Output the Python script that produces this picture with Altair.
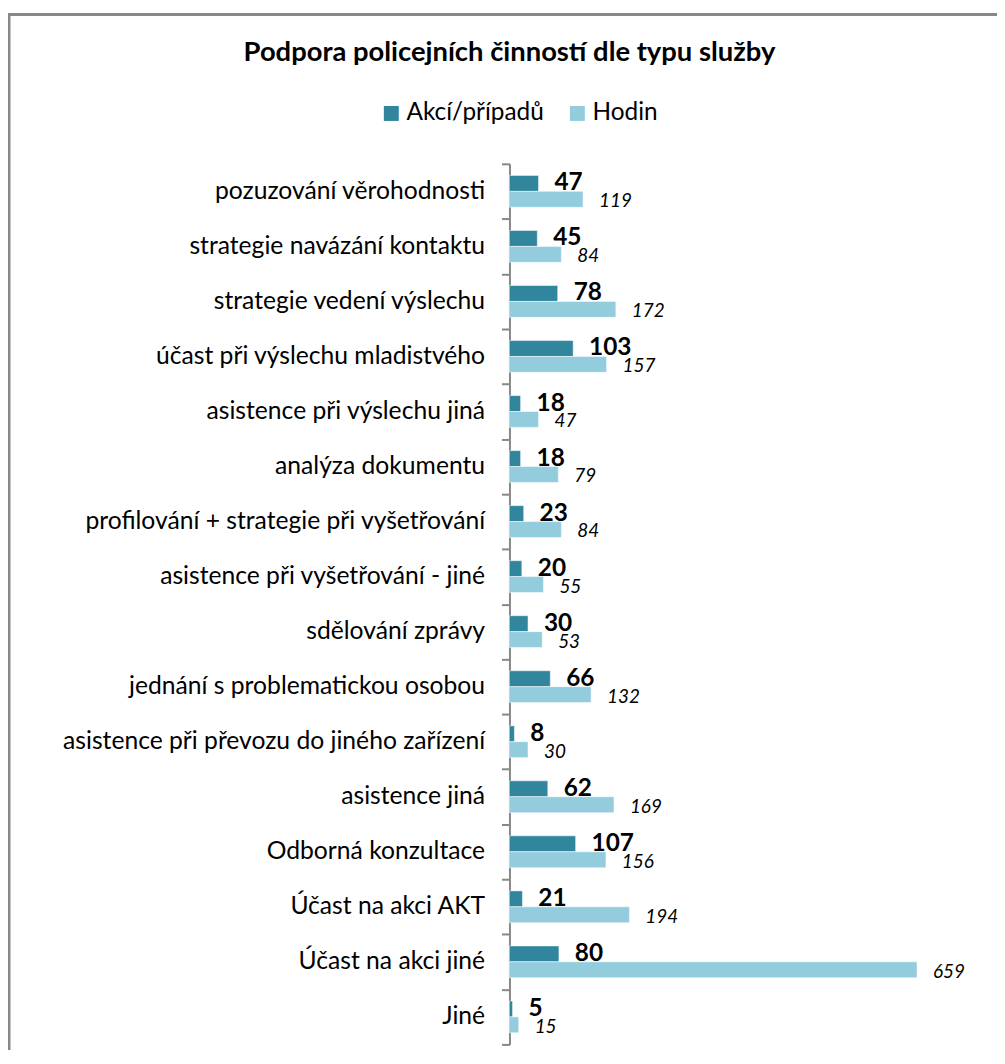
import altair as alt
import pandas as pd

categories = [
    "pozuzování věrohodnosti",
    "strategie navázání kontaktu",
    "strategie vedení výslechu",
    "účast při výslechu mladistvého",
    "asistence při výslechu jiná",
    "analýza dokumentu",
    "profilování + strategie při vyšetřování",
    "asistence při vyšetřování - jiné",
    "sdělování zprávy",
    "jednání s problematickou osobou",
    "asistence při převozu do jiného zařízení",
    "asistence jiná",
    "Odborná konzultace",
    "Účast na akci AKT",
    "Účast na akci jiné",
    "Jiné",
]
akce = [47, 45, 78, 103, 18, 18, 23, 20, 30, 66, 8, 62, 107, 21, 80, 5]
hodin = [119, 84, 172, 157, 47, 79, 84, 55, 53, 132, 30, 169, 156, 194, 659, 15]
series = ["Akcí/případů", "Hodin"]
colors = ["#31859C", "#93CDDD"]

rows = []
for c, a, h in zip(categories, akce, hodin):
    rows.append({"kat": c, "serie": series[0], "hodnota": a})
    rows.append({"kat": c, "serie": series[1], "hodnota": h})
df = pd.DataFrame(rows)

W, H = 460, 885
FONT = "Lato"

y_enc = alt.Y("kat:N", sort=categories,
              scale=alt.Scale(domain=categories, paddingInner=0, paddingOuter=0),
              axis=alt.Axis(title=None, tickBand="extent", tickSize=8, tickWidth=2,
                            tickColor="#888888", domainColor="#888888", domainWidth=2,
                            labelFont=FONT, labelFontSize=24.8, labelColor="#000000",
                            labelPadding=17, labelLimit=700))
yoff_enc = alt.YOffset("serie:N", sort=series,
                       scale=alt.Scale(domain=series, paddingInner=0, paddingOuter=0.73))
x_enc = alt.X("hodnota:Q", scale=alt.Scale(domain=[0, 740], nice=False), axis=None)

base = alt.Chart(df)

bars = base.mark_bar(stroke="white", strokeWidth=0.5).encode(
    y=y_enc, yOffset=yoff_enc, x=x_enc,
    color=alt.Color("serie:N", sort=series,
                    scale=alt.Scale(domain=series, range=colors),
                    legend=alt.Legend(title=None, orient="none", direction="horizontal",
                                      legendX=-131, legendY=-63, symbolType="square",
                                      symbolSize=225, symbolStrokeWidth=0,
                                      labelFont=FONT, labelFontSize=24.5, labelColor="#000000",
                                      labelOffset=3, columnPadding=21)),
)

lab_a = base.transform_filter(alt.datum.serie == series[0]).mark_text(
    align="left", baseline="middle", dx=16, dy=0, font=FONT, fontSize=24.5,
    fontWeight="bold", color="#000000").encode(
    y=y_enc, yOffset=yoff_enc, x=x_enc, text="hodnota:Q")

lab_h = base.transform_filter(alt.datum.serie == series[1]).mark_text(
    align="left", baseline="middle", dx=16, dy=2, font=FONT, fontSize=19,
    fontStyle="italic", color="#000000").encode(
    y=y_enc, yOffset=yoff_enc, x=x_enc, text="hodnota:Q")

one = pd.DataFrame({"a": [0]})
border = alt.Chart(one).mark_rect(fill=None, stroke="#888888", strokeWidth=3).encode(
    x=alt.value(-503), x2=alt.value(W + 200), y=alt.value(-150), y2=alt.value(H + 200))

chart = alt.layer(border, bars, lab_a, lab_h).properties(
    width=W, height=H,
    title=alt.TitleParams("Podpora policejních činností dle typu služby",
                          font=FONT, fontSize=27.5, fontWeight="bold", color="#000000",
                          anchor="middle", dx=-230, offset=0, dy=54),
    padding={"left": 504, "top": 154, "right": 30, "bottom": 3},
    autosize=alt.AutoSizeParams(type="none"),
).configure(background="white").configure_view(stroke=None)

chart.save("out.html", embed_options={"renderer": "svg", "actions": False})
